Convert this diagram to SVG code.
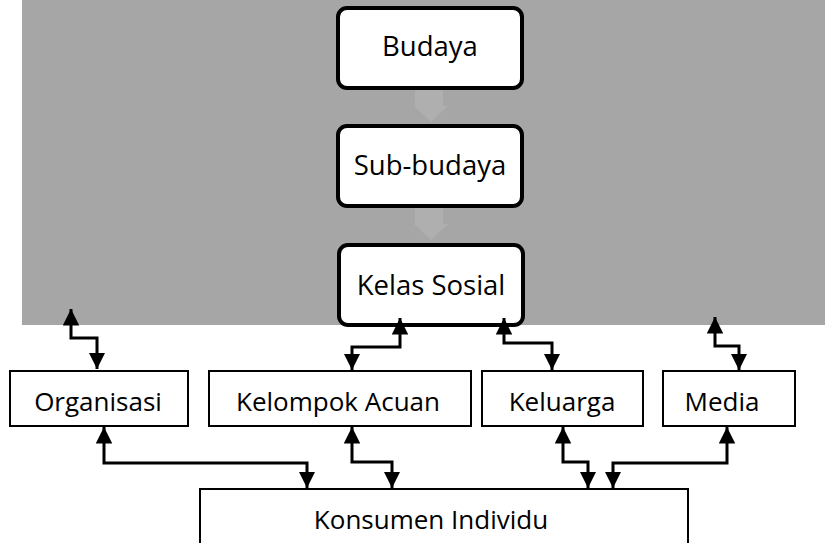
<svg xmlns="http://www.w3.org/2000/svg" width="825" height="543" viewBox="0 0 825 543">
<style>
  .lbl { font-family: "Open Sans", "Liberation Sans", sans-serif; font-size: 26px; fill: #000; text-anchor: middle; }
  .big { font-size: 27.5px; }
  .top { fill: #fff; stroke: #000; stroke-width: 4; }
  .box { fill: #fff; stroke: #000; stroke-width: 2; }
  .con { fill: none; stroke: #000; stroke-width: 3; }
  .ghost { fill: #afafaf; }
</style>
<defs>
  <marker id="ah" viewBox="0 0 10 10" refX="10" refY="5" markerWidth="5.5" markerHeight="5.5" orient="auto-start-reverse" markerUnits="strokeWidth">
    <path d="M0,0 L10,5 L0,10 z" fill="#000"/>
  </marker>
</defs>
<rect x="0" y="0" width="825" height="543" fill="#fff"/>
<rect id="background" x="22" y="0" width="803" height="325" fill="#a6a6a6"/>
<g id="ghost-arrows">
  <path class="ghost" d="M415,90 H443 V106 H448 L431,122 L414,106 H415 Z"/>
  <path class="ghost" d="M415,208 H443 V224 H448 L431,240 L414,224 H415 Z"/>
</g>
<g id="budaya">
  <rect class="top" x="338" y="8" width="184" height="80" rx="9"/>
  <text class="lbl big" x="430" y="56">Budaya</text>
</g>
<g id="sub-budaya">
  <rect class="top" x="338" y="126" width="184" height="80" rx="9"/>
  <text class="lbl big" x="430" y="175">Sub-budaya</text>
</g>
<g id="kelas-sosial">
  <rect class="top" x="339" y="245" width="184" height="80" rx="9"/>
  <text class="lbl big" x="431" y="295">Kelas Sosial</text>
</g>
<g id="organisasi">
  <rect class="box" x="10" y="371" width="178" height="55"/>
  <text class="lbl" x="98" y="411">Organisasi</text>
</g>
<g id="kelompok-acuan">
  <rect class="box" x="209" y="371" width="262" height="55"/>
  <text class="lbl" x="338" y="411">Kelompok Acuan</text>
</g>
<g id="keluarga">
  <rect class="box" x="482" y="371" width="161" height="55"/>
  <text class="lbl" x="562" y="411">Keluarga</text>
</g>
<g id="media">
  <rect class="box" x="663" y="371" width="132" height="55"/>
  <text class="lbl" x="722" y="411">Media</text>
</g>
<g id="konsumen-individu">
  <rect class="box" x="200" y="489" width="488" height="70"/>
  <text class="lbl" x="431" y="529">Konsumen Individu</text>
</g>
<g id="connectors">
  <path class="con" d="M71,309 V338 H97 V369" marker-start="url(#ah)" marker-end="url(#ah)"/>
  <path class="con" d="M400,318 V347 H352 V370" marker-start="url(#ah)" marker-end="url(#ah)"/>
  <path class="con" d="M504,318 V343 H552 V370" marker-start="url(#ah)" marker-end="url(#ah)"/>
  <path class="con" d="M715,317 V346 H739 V370" marker-start="url(#ah)" marker-end="url(#ah)"/>
  <path class="con" d="M104,427 V463 H307 V488" marker-start="url(#ah)" marker-end="url(#ah)"/>
  <path class="con" d="M352,427 V462 H392 V488" marker-start="url(#ah)" marker-end="url(#ah)"/>
  <path class="con" d="M563,427 V462 H588 V488" marker-start="url(#ah)" marker-end="url(#ah)"/>
  <path class="con" d="M727,427 V463 H613 V488" marker-start="url(#ah)" marker-end="url(#ah)"/>
</g>
</svg>
